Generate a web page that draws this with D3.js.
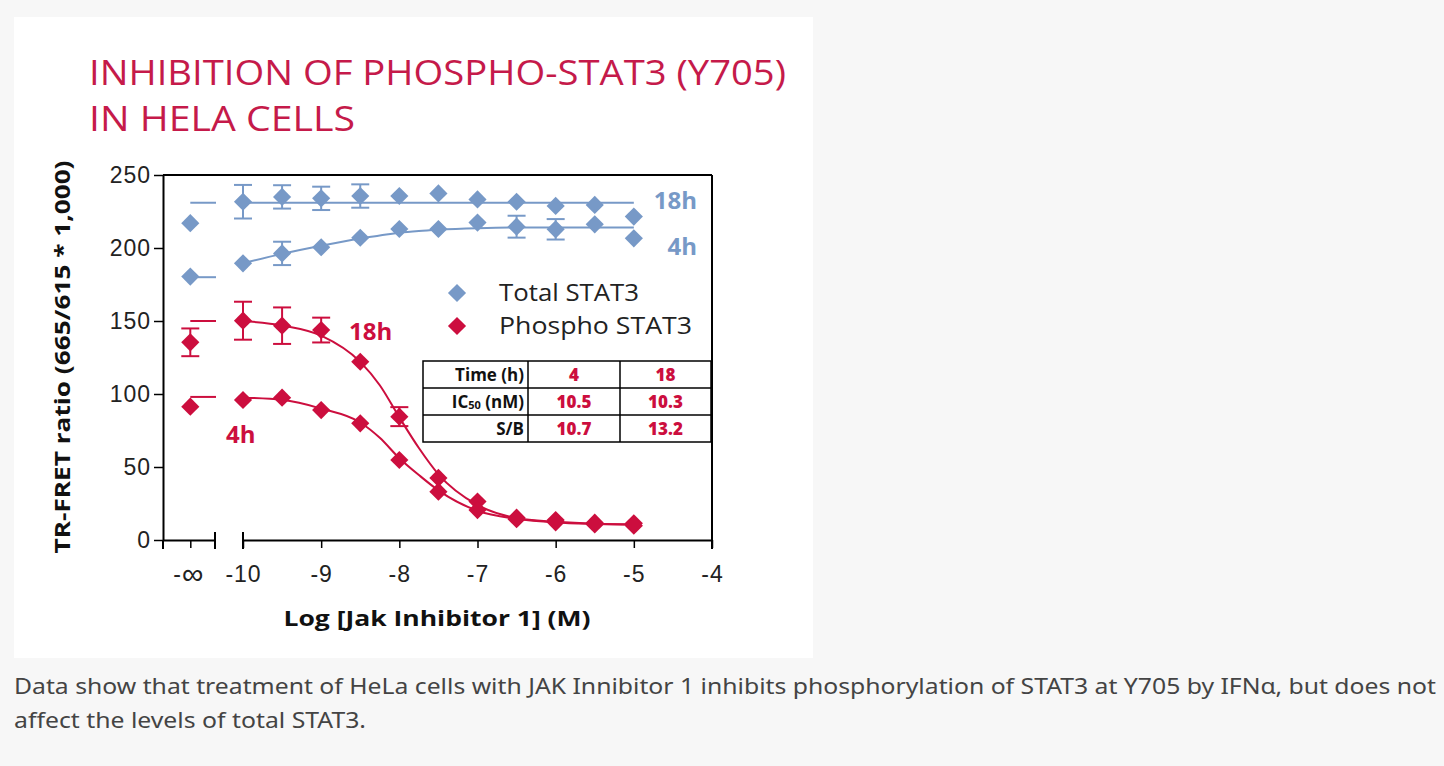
<!DOCTYPE html>
<html lang="en">

<head>
    <meta charset="UTF-8">
    <title>Inhibition of Phospho-STAT3</title>
    <script src="https://cdnjs.cloudflare.com/ajax/libs/d3/7.9.0/d3.min.js"></script>
    <style>
        body { margin: 0; background: #f7f7f7; }
        svg { display: block; font-family: "Open Sans", "Noto Sans", sans-serif; }
    </style>
</head>

<body>
    <svg id="chart" width="1444" height="766"></svg>
    <script>
        // log doses (M) of the measured points
        const doses = [-10, -9.5, -9, -8.5, -8, -7.5, -7, -6.5, -6, -5.5, -5];

        // Total STAT3, 18h and 4h
        const total18 = [231.7, 235, 234, 235.6, 235.6, 237.4, 233.3, 231.7, 228.8, 229.5, 221.5];
        const total18Err = [11.5, 8, 8, 8, 0, 0, 0, 0, 0, 0, 0];
        const total4 = [189.5, 196.3, 200.5, 207, 213, 213, 217.4, 214.6, 212.8, 216.2, 206.6];
        const total4Err = [0, 8, 0, 0, 0, 0, 0, 7.5, 7, 0, 0];

        // Phospho STAT3, 18h and 4h
        const phospho18 = [150.2, 146.8, 143.8, 122.1, 84.5, 42.5, 26.3, 15.3, 13.7, 11.9, 11.4];
        const phospho18Err = [13, 12.5, 8.5, 0, 6.5, 0, 0, 0, 0, 0, 0];
        const phospho4 = [95.9, 97.5, 89, 79.9, 54.8, 33.1, 20.5, 14.2, 12.1, 10.7, 9.8];
        const phospho4Err = [0, 0, 0, 0, 0, 0, 0, 0, 0, 0, 0];

        // values at -inf (no inhibitor)
        const infValues = { total18: 217, total4: 180.4, phospho18: 135.4, phospho4: 91.3 };
        const infErr = { total18: 0, total4: 0, phospho18: 9.5, phospho4: 0 };

        // fitted curves
        const fitDoses = [-10, -9.5, -9, -8.5, -8.25, -8, -7.75, -7.5, -7, -6.5, -6, -5.5, -5];
        const fitTotal18 = [231, 231, 231, 231, 231, 231, 231, 231, 231, 231, 231, 231, 231];
        const fitTotal4 = [189.5, 196, 201.5, 206.5, 208.5, 210.5, 211.7, 212.5, 213.5, 214, 214, 214, 214];
        const fitPhospho18 = [150, 147, 140, 122, 106, 84, 63, 45, 24, 15, 12.5, 11.2, 10.8];
        const fitPhospho4 = [97.5, 96, 90, 80.5, 70, 56, 44.5, 34, 20, 14.5, 12, 11, 10.5];
        const fitTop = { total18: 231, total4: 180, phospho18: 150, phospho4: 98 };

        const yTicks = [0, 50, 100, 150, 200, 250];
        const xTicks = [-10, -9, -8, -7, -6, -5, -4];

        const tableHead = ["Time (h)", "4", "18"];
        const tableIC50 = ["10.5", "10.3"];
        const tableSB = ["10.7", "13.2"];

        const blue = "#7799c7";
        const red = "#cc0e3e";
        const titleRed = "#c51a4a";

        const svg = d3.select("#chart");

        // white card
        svg.append("rect").attr("x", 14).attr("y", 17).attr("width", 799).attr("height", 641).attr("fill", "#fff");

        // title
        svg.append("text").attr("x", 89).attr("y", 85).attr("fill", titleRed)
            .attr("font-size", 34).attr("textLength", 697).attr("lengthAdjust", "spacingAndGlyphs")
            .text("INHIBITION OF PHOSPHO-STAT3 (Y705)");
        svg.append("text").attr("x", 89).attr("y", 131).attr("fill", titleRed)
            .attr("font-size", 34).attr("textLength", 266).attr("lengthAdjust", "spacingAndGlyphs")
            .text("IN HELA CELLS");

        // scales
        const y = d3.scaleLinear().domain([0, 250]).range([540, 175]);
        const x = d3.scaleLinear().domain([-10, -4]).range([243, 712]);
        const xInf = d3.scaleLinear().domain([-1, 1]).range([163, 215]);
        const infX = xInf(0.05);

        // frame top and right
        svg.append("line").attr("x1", 163).attr("x2", 712).attr("y1", y(250)).attr("y2", y(250))
            .attr("stroke", "#000").attr("stroke-width", 2);
        svg.append("line").attr("x1", 712).attr("x2", 712).attr("y1", y(250)).attr("y2", 549)
            .attr("stroke", "#000").attr("stroke-width", 2);

        // y axis
        const yAxis = svg.append("g").attr("transform", "translate(163,0)")
            .call(d3.axisLeft(y).tickValues(yTicks).tickSize(9).tickSizeOuter(0));
        yAxis.select(".domain").attr("stroke-width", 2);
        yAxis.selectAll(".tick line").attr("stroke-width", 1.5);
        yAxis.selectAll("text").attr("font-size", 23).attr("letter-spacing", 1).attr("fill", "#222").attr("x", -12);

        // x axis, two pieces
        const xAxisLeft = svg.append("g").attr("transform", "translate(0,540)")
            .call(d3.axisBottom(xInf).tickValues([0.05]).tickFormat(() => "").tickSize(8).tickSizeOuter(0));
        const xAxisMain = svg.append("g").attr("transform", "translate(0,540)")
            .call(d3.axisBottom(x).tickValues(xTicks).tickFormat(d => `${d}`).tickSize(8).tickSizeOuter(0));
        [xAxisLeft, xAxisMain].forEach(g => {
            g.select(".domain").attr("stroke-width", 2);
            g.selectAll(".tick line").attr("stroke-width", 1.5);
            g.selectAll("text").attr("font-size", 23).attr("letter-spacing", 1).attr("fill", "#222").attr("y", 26);
        });
        // -inf label: bigger infinity sign
        const infLbl = xAxisLeft.select(".tick text").attr("dy", "0.71em");
        infLbl.append("tspan").attr("font-size", 23).text("-");
        infLbl.append("tspan").attr("font-size", 30).attr("dy", 2).text("∞");
        infLbl.attr("x", -2);
        // caps at the axis break and the y axis stub
        [163, 215, 243].forEach(cx => {
            svg.append("line").attr("x1", cx).attr("x2", cx).attr("y1", cx === 163 ? 540 : 532).attr("y2", 549)
                .attr("stroke", "#000").attr("stroke-width", 2);
        });

        // axis titles
        svg.append("text").attr("transform", "translate(70,357) rotate(-90)").attr("text-anchor", "middle")
            .attr("font-size", 22).attr("font-weight", "bold").attr("fill", "#111")
            .attr("textLength", 393).attr("lengthAdjust", "spacingAndGlyphs")
            .text("TR-FRET ratio (665/615 * 1,000)");
        svg.append("text").attr("x", 437).attr("y", 626).attr("text-anchor", "middle")
            .attr("font-size", 22).attr("font-weight", "bold").attr("fill", "#111")
            .attr("textLength", 307).attr("lengthAdjust", "spacingAndGlyphs")
            .text("Log [Jak Inhibitor 1] (M)");

        const line = d3.line().x(d => x(d[0])).y(d => y(d[1])).curve(d3.curveMonotoneX);
        const diamond = d3.symbol(d3.symbolSquare, 165);

        function drawSeries(key, vals, errs, fit, color) {
            const g = svg.append("g");
            // fitted curve
            g.append("path").datum(fitDoses.map((d, i) => [d, fit[i]]))
                .attr("d", line).attr("fill", "none").attr("stroke", color).attr("stroke-width", 2);
            // top value at -inf
            g.append("line").attr("x1", infX).attr("x2", 216)
                .attr("y1", y(fitTop[key])).attr("y2", y(fitTop[key]))
                .attr("stroke", color).attr("stroke-width", 2);

            const pts = doses.map((d, i) => ({ px: x(d), v: vals[i], e: errs[i] }));
            pts.push({ px: infX, v: infValues[key], e: infErr[key] });

            const eb = g.selectAll(".err").data(pts.filter(p => p.e > 0)).enter().append("g")
                .attr("stroke", color).attr("stroke-width", 2);
            eb.append("line").attr("x1", p => p.px).attr("x2", p => p.px)
                .attr("y1", p => y(p.v - p.e)).attr("y2", p => y(p.v + p.e));
            eb.append("line").attr("x1", p => p.px - 9).attr("x2", p => p.px + 9)
                .attr("y1", p => y(p.v - p.e)).attr("y2", p => y(p.v - p.e));
            eb.append("line").attr("x1", p => p.px - 9).attr("x2", p => p.px + 9)
                .attr("y1", p => y(p.v + p.e)).attr("y2", p => y(p.v + p.e));

            g.selectAll(".pt").data(pts).enter().append("path")
                .attr("d", diamond)
                .attr("transform", p => `translate(${p.px},${y(p.v)}) rotate(45)`)
                .attr("fill", color);
        }

        drawSeries("total18", total18, total18Err, fitTotal18, blue);
        drawSeries("total4", total4, total4Err, fitTotal4, blue);
        drawSeries("phospho18", phospho18, phospho18Err, fitPhospho18, red);
        drawSeries("phospho4", phospho4, phospho4Err, fitPhospho4, red);

        // curve labels
        const labels = [
            { t: "18h", x: 697, y: 209, anchor: "end", c: blue },
            { t: "4h", x: 697, y: 255, anchor: "end", c: blue },
            { t: "18h", x: 349, y: 340, anchor: "start", c: red },
            { t: "4h", x: 226, y: 443, anchor: "start", c: red }
        ];
        svg.selectAll(".lbl").data(labels).enter().append("text")
            .attr("x", d => d.x).attr("y", d => d.y).attr("text-anchor", d => d.anchor)
            .attr("font-size", 24).attr("font-weight", "bold").attr("fill", d => d.c)
            .text(d => d.t);

        // legend
        const legend = [{ t: "Total STAT3", c: blue, y: 293, w: 140 }, { t: "Phospho STAT3", c: red, y: 326, w: 193 }];
        legend.forEach(d => {
            svg.append("path").attr("d", diamond).attr("transform", `translate(457,${d.y}) rotate(45)`).attr("fill", d.c);
            svg.append("text").attr("x", 499).attr("y", d.y + 8).attr("font-size", 23).attr("fill", "#222")
                .attr("textLength", d.w).attr("lengthAdjust", "spacingAndGlyphs").text(d.t);
        });

        // table
        const tbl = svg.append("g");
        const colX = [423, 528, 620, 711];
        const rowY = [361, 388, 415, 442];
        tbl.append("rect").attr("x", colX[0]).attr("y", rowY[0]).attr("width", colX[3] - colX[0])
            .attr("height", rowY[3] - rowY[0]).attr("fill", "#fff").attr("stroke", "#000").attr("stroke-width", 1.5);
        [colX[1], colX[2]].forEach(cx => tbl.append("line").attr("x1", cx).attr("x2", cx)
            .attr("y1", rowY[0]).attr("y2", rowY[3]).attr("stroke", "#000").attr("stroke-width", 1.5));
        [rowY[1], rowY[2]].forEach(ry => tbl.append("line").attr("x1", colX[0]).attr("x2", colX[3])
            .attr("y1", ry).attr("y2", ry).attr("stroke", "#000").attr("stroke-width", 1.5));

        const rows = [
            { label: "Time (h)", vals: tableHead.slice(1) },
            { label: "IC50", vals: tableIC50 },
            { label: "S/B", vals: tableSB }
        ];
        rows.forEach((r, i) => {
            const cy = (rowY[i] + rowY[i + 1]) / 2 + 6;
            const lt = tbl.append("text").attr("x", colX[1] - 4).attr("y", cy).attr("text-anchor", "end")
                .attr("font-size", 17).attr("font-weight", 700).attr("fill", "#111");
            if (r.label === "IC50") {
                lt.append("tspan").text("IC");
                lt.append("tspan").attr("font-size", 11).attr("dy", 1).text("50");
                lt.append("tspan").attr("dy", -1).text(" (nM)");
            } else {
                lt.text(r.label);
            }
            r.vals.forEach((v, j) => {
                tbl.append("text").attr("x", (colX[j + 1] + colX[j + 2]) / 2).attr("y", cy)
                    .attr("text-anchor", "middle").attr("font-size", 17).attr("font-weight", 800)
                    .attr("fill", red).text(v);
            });
        });

        // caption
        svg.append("text").attr("x", 14).attr("y", 694).attr("font-family", "'Noto Sans', sans-serif")
            .attr("font-size", 21).attr("fill", "#444").attr("textLength", 1422).attr("lengthAdjust", "spacingAndGlyphs")
            .text("Data show that treatment of HeLa cells with JAK Innibitor 1 inhibits phosphorylation of STAT3 at Y705 by IFNα, but does not");
        svg.append("text").attr("x", 14).attr("y", 728).attr("font-family", "'Noto Sans', sans-serif")
            .attr("font-size", 21).attr("fill", "#444").attr("textLength", 352).attr("lengthAdjust", "spacingAndGlyphs")
            .text("affect the levels of total STAT3.");
    </script>
</body>

</html>
